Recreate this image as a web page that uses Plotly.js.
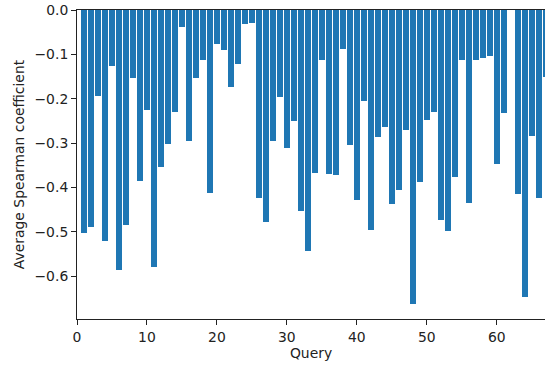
<!DOCTYPE html>
<html>
<head>
<meta charset="utf-8">
<script src="https://cdn.plot.ly/plotly-3.0.1.min.js"></script>
<style>html,body{margin:0;padding:0;background:#fff;}#chart{width:545px;height:367px;}</style>
</head>
<body>
<div id="chart"></div>
<script>
const queries = [];
for (let i = 1; i <= 67; i++) queries.push(i);
const spearman = [
  -0.503, -0.490, -0.193, -0.521, -0.126, -0.586, -0.486, -0.154, -0.386, -0.225,
  -0.580, -0.354, -0.302, -0.229, -0.038, -0.296, -0.154, -0.113, -0.412, -0.077,
  -0.090, -0.174, -0.122, -0.032, -0.029, -0.425, -0.479, -0.296, -0.196, -0.312,
  -0.251, -0.454, -0.544, -0.367, -0.113, -0.370, -0.373, -0.087, -0.305, -0.429,
  -0.205, -0.496, -0.286, -0.264, -0.438, -0.406, -0.271, -0.664, -0.387, -0.248,
  -0.229, -0.474, -0.499, -0.377, -0.113, -0.435, -0.113, -0.109, -0.104, -0.348,
  -0.232, 0, -0.415, -0.647, -0.284, -0.424, -0.150
];
const xTicks = [0, 10, 20, 30, 40, 50, 60];
const yTicks = [0, -0.1, -0.2, -0.3, -0.4, -0.5, -0.6];

const font = {family: 'DejaVu Sans', size: 13.9, color: '#222'};
Plotly.newPlot('chart', [{
  type: 'bar',
  x: queries,
  y: spearman,
  width: 0.8,
  marker: {color: '#1f77b4', line: {width: 0}},
  hoverinfo: 'none'
}], {
  width: 545, height: 367,
  margin: {l: 77, r: 0, t: 10, b: 48},
  paper_bgcolor: '#fff', plot_bgcolor: '#fff',
  font: font,
  showlegend: false,
  bargap: 0,
  xaxis: {
    range: [0, 66.9],
    tickvals: xTicks,
    ticktext: xTicks.map(String),
    ticks: 'outside', ticklen: 5, tickwidth: 1, tickcolor: '#222',
    showline: true, linecolor: '#222', linewidth: 1, mirror: true,
    showgrid: false, zeroline: false,
    tickfont: font,
    title: {text: 'Query', font: font, standoff: 4}
  },
  yaxis: {
    range: [-0.697, 0],
    tickvals: yTicks,
    ticktext: yTicks.map(v => v === 0 ? '0.0' : '\u2212' + Math.abs(v).toFixed(1)),
    ticks: 'outside', ticklen: 5, tickwidth: 1, tickcolor: '#222',
    showline: true, linecolor: '#222', linewidth: 1,
    showgrid: false, zeroline: false,
    tickfont: font,
    title: {text: 'Average Spearman coefficient', font: font, standoff: 6}
  }
}, {staticPlot: true});
</script>
</body>
</html>
